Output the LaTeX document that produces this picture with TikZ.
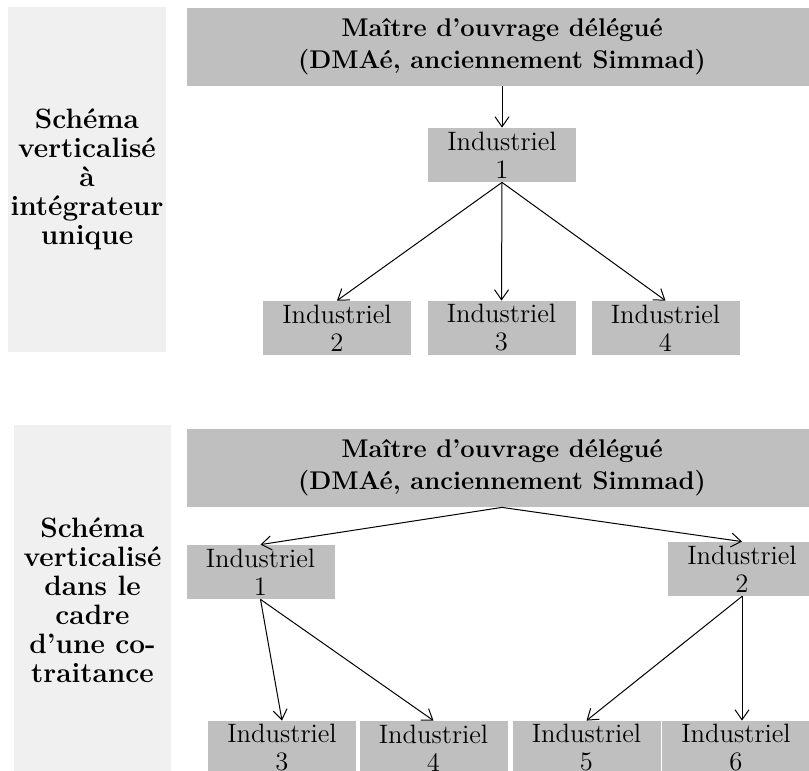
\documentclass[tikz,border=0pt]{standalone}
\usepackage{fontspec}
\usetikzlibrary{arrows.meta}

\definecolor{boxgray}{HTML}{BFBFBF}
\definecolor{panelgray}{HTML}{F0F0F0}

\begin{document}
\begin{tikzpicture}[x=0.5pt, y=-0.5pt]

  \tikzstyle{indus}=[fill=boxgray, minimum width=74pt, minimum height=27pt, inner sep=0pt,
                     align=center, font=\fontsize{13.3}{14}\selectfont]
  \tikzstyle{head}=[fill=boxgray, minimum width=315pt, minimum height=39pt, inner sep=0pt,
                    align=center, font=\bfseries\fontsize{12.8}{16}\selectfont]
  \tikzstyle{panel}=[fill=panelgray, minimum width=79pt, inner sep=0pt,
                     align=center, font=\bfseries\fontsize{14}{14.5}\selectfont]
  \tikzstyle{arr}=[draw, line width=0.5pt, -{Straight Barb[length=5pt, width=7pt]}]

  \useasboundingbox (0,0) rectangle (809,771);
  \clip (0,0) rectangle (809,771);

  % first scheme: single integrator
  \node[panel, minimum height=172.5pt] (panelA) at (87,179.5)
    {Schéma\\verticalisé\\à\\intégrateur\\unique};
  \node[head] (headA) at (502,47) {Maître d’ouvrage délégué\\(DMAé, anciennement Simmad)};
  \node[indus] (indA1) at (502,155) {Industriel\\1};
  \draw[arr] (headA.south) -- (indA1.north);

  \foreach \n/\x in {2/337,3/501.5,4/665.5}
    {
      \node[indus] (indA\n) at (\x,328) {Industriel\\\n};
      \draw[arr] (indA1.south) -- (indA\n.north);
    }

  % second scheme: co-contracting
  \node[panel, minimum width=78.5pt, minimum height=175pt] (panelB) at (92.5,600)
    {Schéma\\verticalisé\\dans le\\cadre\\d’une co-\\traitance};
  \node[head] (headB) at (502,468) {Maître d’ouvrage délégué\\(DMAé, anciennement Simmad)};
  \node[indus] (indB1) at (260.5,572) {Industriel\\1};
  \node[indus] (indB2) at (742,569) {Industriel\\2};
  \draw[arr] (headB.south) -- (indB1.north);
  \draw[arr] (headB.south) -- (indB2.north);

  \foreach \n/\x in {3/282,4/433.5,5/586.5,6/736}
    \node[indus] (indB\n) at (\x,748) {Industriel\\\n};

  \draw[arr] (indB1.south) -- (indB3.north);
  \draw[arr] (indB1.south) -- (indB4.north);
  \draw[arr] (indB2.south) -- (indB5.north);
  \draw[arr] (indB2.south) -- (indB2.south |- indB6.north);
\end{tikzpicture}
\end{document}
